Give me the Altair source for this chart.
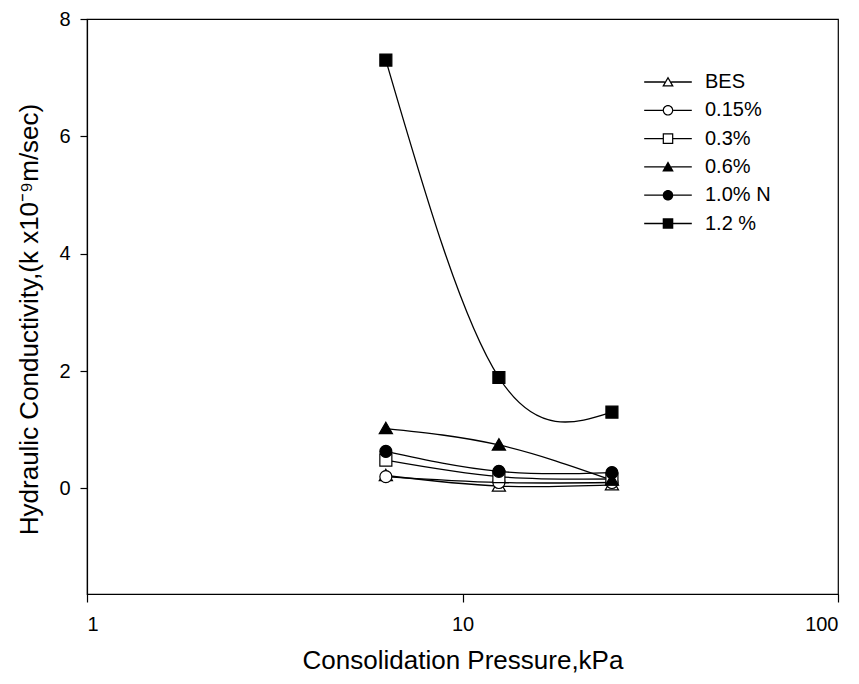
import altair as alt
import pandas as pd

# ---- data ----
pressure = [6.25, 12.5, 25.0]
series_names = ["BES", "0.15%", "0.3%", "0.6%", "1.0% N", "1.2 %"]
k_bes = [0.22, 0.04, 0.06]
k_015 = [0.20, 0.10, 0.10]
k_03 = [0.48, 0.20, 0.16]
k_06 = [1.02, 0.74, 0.14]
k_10n = [0.63, 0.29, 0.27]
k_12 = [7.30, 1.89, 1.30]

all_k = [k_bes, k_015, k_03, k_06, k_10n, k_12]
rows = []
for order, (name, ks) in enumerate(zip(series_names, all_k)):
    for p, k in zip(pressure, ks):
        rows.append({"series": name, "order": order, "pressure": p, "k": k})
df = pd.DataFrame(rows)

# marker outlines (unit coordinates, scaled by Vega)
TRI = "M0,-1.05L1.1,0.85L-1.1,0.85Z"
CIR = "M-1,0A1,1 0 1,0 1,0A1,1 0 1,0 -1,0Z"
SQR = "M-1,-1H1V1H-1Z"
marker_paths = [TRI, CIR, SQR, TRI, CIR, SQR]
fills = ["white", "white", "white", "black", "black", "black"]

# legend symbols drawn as filled outlines: line bars + marker (ring for open ones)
L = 4.5
h = 0.12
TRI_HOLE = "M0,-0.56L-0.68,0.62L0.68,0.62Z"
CIR_HOLE = "M-0.78,0A0.78,0.78 0 1,1 0.78,0A0.78,0.78 0 1,1 -0.78,0Z"
SQR_HOLE = "M-0.77,-0.77V0.77H0.77V-0.77Z"


def bars(edge):
    return (f"M{-L},{-h}H{-edge}V{h}H{-L}Z"
            f"M{edge},{-h}H{L}V{h}H{edge}Z")


leg_paths = [
    bars(0.6) + TRI + TRI_HOLE,
    bars(1.0) + CIR + CIR_HOLE,
    bars(1.0) + SQR + SQR_HOLE,
    bars(0.6) + TRI,
    bars(1.0) + CIR,
    bars(1.0) + SQR,
]

FONT = "Liberation Sans"

x_enc = alt.X(
    "pressure:Q",
    scale=alt.Scale(type="log", domain=[1, 100], nice=False),
    axis=alt.Axis(
        values=[1, 10, 100], format="~g", title="Consolidation Pressure,kPa",
        grid=False, tickSize=8, labelPadding=12, titlePadding=13,
        labelFontSize=20, titleFontSize=26,
    ),
)
y_enc = alt.Y(
    "k:Q",
    scale=alt.Scale(domain=[-1.8, 8], nice=False, zero=False),
    axis=alt.Axis(
        values=[0, 2, 4, 6, 8], title="Hydraulic Conductivity,(k x10⁻⁹m/sec)",
        grid=False, tickSize=7, labelPadding=10, titlePadding=16, titleY=300,
        labelFontSize=20, titleFontSize=26,
    ),
)

base = alt.Chart(df)

lines = base.mark_line(interpolate="natural", color="black", strokeWidth=1.3).encode(
    x=x_enc, y=y_enc, detail="series:N", order="pressure:Q"
)

points = base.mark_point(filled=True, opacity=1, stroke="black", strokeWidth=1.2, size=144).encode(
    x=x_enc,
    y=y_enc,
    shape=alt.Shape("series:N", scale=alt.Scale(domain=series_names, range=marker_paths), legend=None),
    fill=alt.Fill("series:N", scale=alt.Scale(domain=series_names, range=fills), legend=None),
    order="order:Q",
)

legend_layer = base.transform_filter("false").mark_point(
    filled=True, opacity=1, color="black", size=112
).encode(
    x=x_enc,
    y=y_enc,
    shape=alt.Shape(
        "series:N", scale=alt.Scale(domain=series_names, range=leg_paths),
        legend=alt.Legend(
            title=None, orient="none", legendX=571, legendY=53,
            symbolSize=112, symbolFillColor="black", symbolStrokeWidth=0,
            labelFontSize=20, labelFont=FONT, labelOffset=27, rowPadding=8.3,
            padding=0, labelColor="black",
        ),
    ),
)

chart = (
    alt.layer(lines, points, legend_layer)
    .resolve_scale(shape="independent", fill="independent")
    .properties(
        width=751, height=575,
        padding={"left": 87, "top": 19, "right": 21, "bottom": 90},
        autosize=alt.AutoSizeParams(type="none"),
        background="white",
    )
    .configure_view(stroke="black", strokeWidth=1.2)
    .configure_axis(
        domainColor="black", tickColor="black", labelColor="black", titleColor="black",
        labelFont=FONT, titleFont=FONT, titleFontWeight="normal", domainWidth=1.2, tickWidth=1.2,
    )
)

chart.save("out.html", embed_options={"renderer": "svg", "actions": False})
